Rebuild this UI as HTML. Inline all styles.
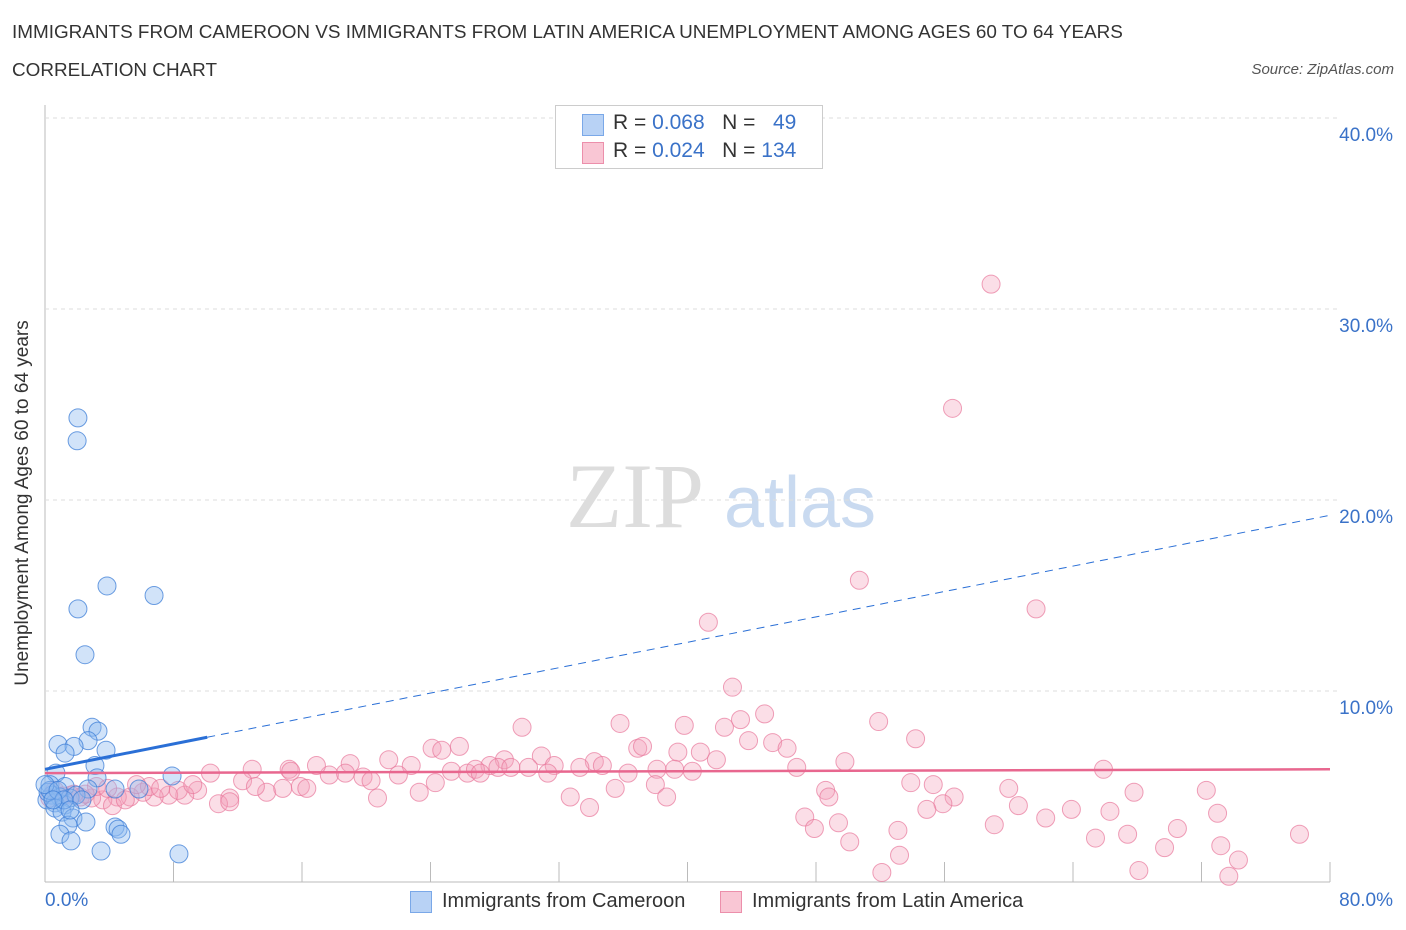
<!DOCTYPE html>
<html><head><meta charset="utf-8"><style>
body{margin:0;background:#fff;font-family:"Liberation Sans",sans-serif;}
#wrap{position:relative;width:1406px;height:930px;overflow:hidden;}
.t{position:absolute;white-space:nowrap;}
</style></head><body>
<div id="wrap">
<div class="t" style="left:12px;top:22px;font-size:18.9px;color:#333;">IMMIGRANTS FROM CAMEROON VS IMMIGRANTS FROM LATIN AMERICA UNEMPLOYMENT AMONG AGES 60 TO 64 YEARS</div>
<div class="t" style="left:12px;top:60px;font-size:18.9px;color:#333;">CORRELATION CHART</div>
<div class="t" style="right:12px;top:61px;font-size:15px;color:#555;font-style:italic;">Source: ZipAtlas.com</div>
<svg id="svg" width="1406" height="930" style="position:absolute;left:0;top:0">
<text x="635" y="527" font-family="Liberation Serif" font-size="92" fill="#ddd" text-anchor="middle">ZIP</text>
<text x="800" y="527" font-family="Liberation Sans" font-size="72" fill="#c9daf0" text-anchor="middle">atlas</text>
<g id="grid"></g><g id="pts"></g><g id="trend"></g>
<text x="18" y="493" transform="rotate(-90 28 493)" font-size="19" fill="#333" text-anchor="middle">Unemployment Among Ages 60 to 64 years</text>
</svg>
<div style="position:absolute;left:555px;top:105px;width:266px;height:62px;border:1px solid #ccc;background:#fff;font-size:21px;">
<div style="position:absolute;left:26px;top:8px;width:20px;height:20px;background:#b8d2f5;border:1px solid #7aa8e8;"></div>
<div class="t" style="left:57px;top:5px;color:#333">R = <span style="color:#3a72c8">0.068</span>&nbsp;&nbsp;&nbsp;N = &nbsp;&nbsp;<span style="color:#3a72c8">49</span></div>
<div style="position:absolute;left:26px;top:36px;width:20px;height:20px;background:#f9c6d4;border:1px solid #ec8fab;"></div>
<div class="t" style="left:57px;top:33px;color:#333">R = <span style="color:#3a72c8">0.024</span>&nbsp;&nbsp;&nbsp;N = <span style="color:#3a72c8">134</span></div>
</div>
<div style="position:absolute;left:410px;top:891px;width:20px;height:20px;background:#b8d2f5;border:1px solid #7aa8e8;"></div>
<div class="t" style="left:442px;top:890px;font-size:20px;color:#333">Immigrants from Cameroon</div>
<div style="position:absolute;left:720px;top:891px;width:20px;height:20px;background:#f9c6d4;border:1px solid #ec8fab;"></div>
<div class="t" style="left:752px;top:890px;font-size:20px;color:#333">Immigrants from Latin America</div>
<div class="t" style="left:45px;top:890px;font-size:19px;color:#3a72c8">0.0%</div>
<div class="t" style="right:13px;top:890px;font-size:19px;color:#3a72c8">80.0%</div>
</div>
<script>
const yTicks=[10,20,30,40];
const yTickLabels=["10.0%","20.0%","30.0%","40.0%"];
const blueX=[2.05,2.0,3.86,2.05,6.79,2.49,2.93,3.3,2.68,0.81,1.81,1.25,3.8,3.11,7.91,3.24,0.68,0.31,1.25,5.85,4.36,2.68,0.44,0.93,0.12,0.62,1.25,1.56,0.19,0.62,1.06,1.74,2.55,1.43,0.93,1.62,4.36,4.55,4.73,3.49,8.34,0.31,0,0.81,1.93,2.3,1.18,0.5,1.56];
const blueY=[24.3,23.1,15.5,14.3,15.0,11.9,8.1,7.9,7.4,7.2,7.1,6.75,6.9,6.1,5.55,5.45,5.7,5.1,5.0,4.87,4.87,4.87,4.55,4.45,4.3,4.14,4.03,4.4,4.7,3.87,3.66,3.35,3.14,2.98,2.5,2.15,2.88,2.77,2.5,1.62,1.47,4.8,5.1,4.8,4.55,4.3,4.3,4.3,3.77];
const pinkX=[58.9,56.5,50.7,61.7,41.3,42.8,51.9,29.7,35.8,39.8,43.3,44.8,54.2,25.8,42.3,43.8,36.9,37.2,24.1,24.7,45.3,46.2,40.8,41.8,49.8,28.6,30.9,34.2,39.4,21.4,27.7,28.2,30.1,31.7,34.7,39.2,22.8,19.0,18.7,17.7,16.9,15.2,15.3,12.9,10.3,12.3,13.8,14.8,15.9,16.3,19.8,20.3,22.0,24.3,25.3,26.3,26.8,27.1,29.0,31.3,33.3,36.3,38.1,40.3,46.8,65.9,48.6,48.8,53.9,55.3,60.0,67.8,72.3,73.0,56.6,55.9,54.9,60.6,62.3,63.9,66.3,47.3,49.4,47.9,53.1,59.1,67.4,70.5,65.4,69.7,50.1,53.2,73.2,74.3,78.1,68.1,52.1,73.7,33.9,32.7,35.5,38.0,38.7,23.3,20.7,11.5,10.8,9.5,8.7,7.7,6.8,6.1,5.3,4.5,3.6,2.9,2.2,1.6,4.2,3.2,6.5,8.3,9.2,13.1,0.6,1.1,2.5,5.0,7.2,11.5,0.3,1.8,3.9,5.7];
const pinkY=[31.3,24.8,15.8,14.3,13.6,10.2,8.4,8.1,8.3,8.2,8.5,8.8,7.5,7.1,8.1,7.4,7.0,7.1,7.0,6.9,7.3,7.0,6.8,6.4,6.3,6.4,6.6,6.3,6.8,6.4,6.1,6.0,6.0,6.1,6.1,5.9,6.1,6.2,5.7,5.6,6.1,5.9,5.8,5.9,5.7,5.3,4.7,4.9,5.0,4.9,5.5,5.3,5.6,5.2,5.8,5.7,5.9,5.7,6.0,5.7,6.0,5.7,5.9,5.8,6.0,5.9,4.8,4.45,5.2,5.1,4.9,4.7,4.8,3.6,4.45,4.1,3.8,4.0,3.35,3.8,3.7,3.4,3.1,2.8,2.7,3.0,2.5,2.8,2.3,1.8,2.1,1.4,1.9,1.15,2.5,0.6,0.5,0.3,3.9,4.45,4.9,5.1,4.45,4.7,4.4,4.4,4.1,4.8,4.55,4.55,4.45,4.7,4.45,4.45,4.3,4.4,4.45,4.55,4.0,5.0,5.0,4.8,5.1,5.0,4.8,4.5,4.6,4.3,4.9,4.2,4.4,4.6,4.9,5.1];
const blueTrend=[5.9,19.2];
const blueSolidEnd=10.1;
const pinkTrend=[5.7,5.9];
const X0=45,X1=1330,Y0=882,PY=19.1;
const xs=v=>X0+(X1-X0)*v/80, ys=v=>Y0-v*PY;
const NS="http://www.w3.org/2000/svg";
function mk(tag,attrs,parent){const e=document.createElementNS(NS,tag);for(const k in attrs)e.setAttribute(k,attrs[k]);document.getElementById(parent).appendChild(e);return e;}
let e;
e=mk('line',{x1:X0,y1:105,x2:X0,y2:Y0,stroke:'#bbb','stroke-width':1},'grid');


e=mk('line',{x1:X0,y1:Y0,x2:X1,y2:Y0,stroke:'#bbb','stroke-width':1},'grid');


for(let i=0;i<=10;i++){
 e=mk('line',{x1:xs(i*8),y1:Y0-20,x2:xs(i*8),y2:Y0,stroke:'#bbb','stroke-width':1},'grid');
 
 
}
yTicks.forEach((v,i)=>{
 e=mk('line',{x1:X0,y1:ys(v),x2:X1+10,y2:ys(v),stroke:'#ddd','stroke-dasharray':'4,4'},'grid');
 
 
 e=mk('text',{x:1393,y:ys(v)+23,'text-anchor':'end','font-size':19,fill:'#3a72c8'},'grid');
 e.textContent=yTickLabels[i];
 
 
});
pinkX.forEach((x,i)=>{
 e=mk('circle',{cx:xs(x),cy:ys(pinkY[i]),r:9,fill:'rgba(244,160,185,0.35)',stroke:'rgba(232,120,155,0.7)','stroke-width':1},'pts');
 
 
});
blueX.forEach((x,i)=>{
 e=mk('circle',{cx:xs(x),cy:ys(blueY[i]),r:9,fill:'rgba(140,185,240,0.4)',stroke:'rgba(60,125,215,0.75)','stroke-width':1},'pts');
 
 
});
const by=x=>blueTrend[0]+(blueTrend[1]-blueTrend[0])*x/80;
e=mk('line',{x1:xs(0),y1:ys(by(0)),x2:xs(blueSolidEnd),y2:ys(by(blueSolidEnd)),stroke:'#2a6fd6','stroke-width':3},'trend');


e=mk('line',{x1:xs(blueSolidEnd),y1:ys(by(blueSolidEnd)),x2:xs(80),y2:ys(by(80)),stroke:'#2a6fd6','stroke-width':1,'stroke-dasharray':'8,6'},'trend');


e=mk('line',{x1:xs(0),y1:ys(pinkTrend[0]),x2:xs(80),y2:ys(pinkTrend[1]),stroke:'#e8678f','stroke-width':2.5},'trend');


</script>
</body></html>
